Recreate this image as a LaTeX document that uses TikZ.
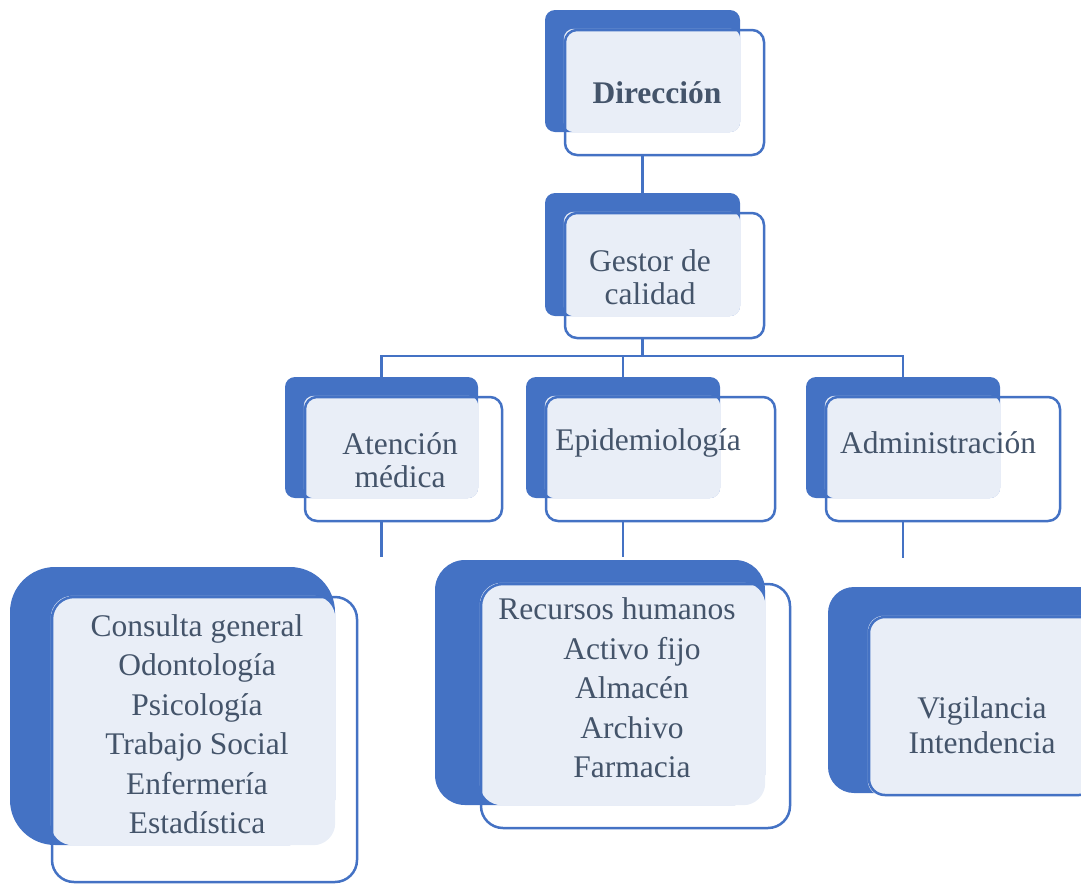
\documentclass[tikz,border=0pt]{standalone}
\usepackage{fontspec}
\setmainfont{LiberationSerif}[Extension=.ttf, UprightFont=*-Regular, BoldFont=*-Bold, ItalicFont=*-Italic, BoldItalicFont=*-BoldItalic]
\usetikzlibrary{positioning, backgrounds}

\definecolor{smartblue}{HTML}{4472C4}
\definecolor{paleblue}{HTML}{E9EEF7}
\definecolor{slatetext}{HTML}{44546A}

\begin{document}
\begin{tikzpicture}[
    x=1pt, y=-1pt,
    darkbox/.style={
        fill=smartblue,
        rounded corners=#1,
        inner sep=0pt
    },
    darkbox/.default=10pt,
    framebox/.style={
        draw=smartblue,
        line width=2.5pt,
        rounded corners=#1,
        inner sep=0pt
    },
    framebox/.default=12pt,
    label/.style={
        text=slatetext,
        font=\fontsize{31.5}{33}\selectfont,
        align=center
    },
    listing/.style={
        label,
        font=\fontsize{31.5}{39.5}\selectfont
    },
    link/.style={
        draw=smartblue,
        line width=2.5pt
    }
]

\useasboundingbox (0,0) rectangle (1081,884);

% --- DIRECCION ------------------------------------------------

\node[framebox, minimum width=199pt, minimum height=125pt] (dirO) at (664.5,92.5) {};
\begin{scope}[on background layer]
    \node[darkbox, minimum width=195pt, minimum height=122pt] (dirD) at (642.5,71) {};
    \fill[paleblue, rounded corners=10pt] (dirO.north west) rectangle (dirD.south east);
\end{scope}
\node[label, font=\fontsize{31.5}{33}\selectfont\bfseries] (dir) at (657,93) {Dirección};

% --- GESTOR DE CALIDAD ----------------------------------------

\node[framebox, minimum width=199pt, minimum height=125pt] (gesO) at (664.5,275.5) {};
\begin{scope}[on background layer]
    \node[darkbox, minimum width=195pt, minimum height=123pt] (gesD) at (642.5,254.5) {};
    \fill[paleblue, rounded corners=10pt] (gesO.north west) rectangle (gesD.south east);
\end{scope}
\node[label] (ges) at (650,277) {Gestor de\\calidad};

% --- AREAS ----------------------------------------------------

\node[framebox, minimum width=197pt, minimum height=124pt] (atnO) at (403.5,459) {};
\node[framebox, minimum width=229pt, minimum height=124pt] (epiO) at (660.5,459) {};
\node[framebox, minimum width=234pt, minimum height=124pt] (admO) at (943,459) {};
\begin{scope}[on background layer]
    \node[darkbox, minimum width=193pt, minimum height=121pt] (atnD) at (381.5,437.5) {};
    \node[darkbox, minimum width=194pt, minimum height=121pt] (epiD) at (623,437.5) {};
    \node[darkbox, minimum width=194pt, minimum height=121pt] (admD) at (903,437.5) {};
    \fill[paleblue, rounded corners=10pt] (atnO.north west) rectangle (atnD.south east);
    \fill[paleblue, rounded corners=10pt] (epiO.north west) rectangle (epiD.south east);
    \fill[paleblue, rounded corners=10pt] (admO.north west) rectangle (admD.south east);
\end{scope}
\node[label] (atn) at (400,460) {Atención\\médica};
\node[label] (epi) at (648,443) {Epidemiología};
\node[label] (adm) at (938,443) {Administración};

% --- SERVICIOS ------------------------------------------------

\node[framebox=22pt, minimum width=305pt, minimum height=285pt] (medO) at (204.5,739.5) {};
\node[framebox=22pt, minimum width=309pt, minimum height=244pt] (recO) at (635.5,706) {};
\node[framebox=16pt, minimum width=226pt, minimum height=178pt] (vigO) at (982,706) {};
\begin{scope}[on background layer]
    \node[darkbox=45pt, minimum width=325pt, minimum height=278pt] (medD) at (172.5,706) {};
    \node[darkbox=30pt, minimum width=330pt, minimum height=245pt] (recD) at (600,682.5) {};
    \node[darkbox=26pt, minimum width=282pt, minimum height=206pt] (vigD) at (969,690) {};
    \fill[paleblue, rounded corners=22pt] (medO.north west) rectangle (medD.south east);
    \fill[paleblue, rounded corners=22pt] (recO.north west) rectangle (recD.south east);
    \fill[paleblue, rounded corners=16pt] (vigO.north west) rectangle (vigO.south east);
\end{scope}
\node[listing] (med) at (197,724) {Consulta general\\Odontología\\Psicología\\Trabajo Social\\Enfermería\\Estadística};
\node[listing] (rec) at (632,688) {Recursos humanos\hspace*{30pt}\\Activo fijo\\Almacén\\Archivo\\Farmacia};
\node[label, font=\fontsize{31.5}{35}\selectfont] (vig) at (982,725) {Vigilancia\\Intendencia};

% --- CONNECTORS -----------------------------------------------

\coordinate (bus) at (642.5,356);
\coordinate (atnEnd) at (381.5,557);
\coordinate (epiEnd) at (623,557);
\coordinate (admEnd) at (903,558);

\draw[link] (dirD.south |- dirO.south) -- (gesD.north);
\draw[link] (gesD.south |- gesO.south) -- (bus);
\draw[link] (atnD.north) -- (atnD.north |- bus) -- (admD.north |- bus) -- (admD.north);
\draw[link] (epiD.north |- bus) -- (epiD.north);

\draw[link] (atnD.south |- atnO.south) -- (atnEnd);
\draw[link] (epiD.south |- epiO.south) -- (epiEnd);
\draw[link] (admD.south |- admO.south) -- (admEnd);

\end{tikzpicture}
\end{document}
